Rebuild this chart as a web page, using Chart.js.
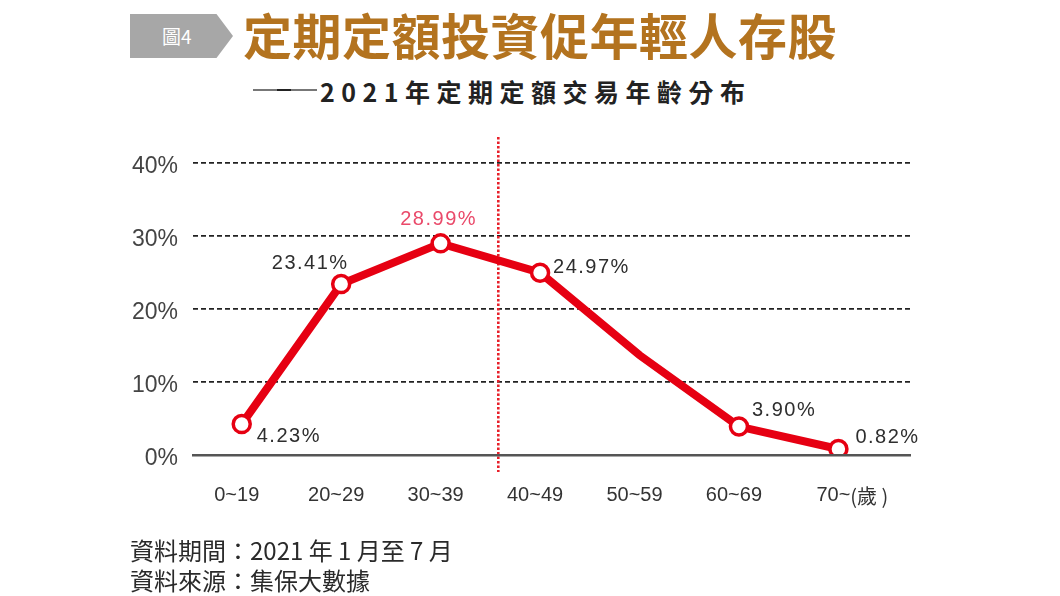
<!DOCTYPE html>
<html lang="zh-Hant">
<head>
<meta charset="UTF-8">
<title>定期定額投資促年輕人存股</title>
<script src="https://cdn.jsdelivr.net/npm/chart.js"></script>
<style>
  html, body { margin: 0; padding: 0; background: #fff; }
  body {
    width: 1060px; height: 596px;
    position: relative; overflow: hidden;
    font-family: "Noto Sans CJK TC", sans-serif;
  }
  #chart { position: absolute; left: 0; top: 0; }
  #badge {
    position: absolute; left: 130px; top: 14px;
    width: 103px; height: 44px;
    background: #a7a7a7;
    clip-path: polygon(0 0, 84% 0, 100% 50%, 84% 100%, 0 100%);
    color: #fff; font-size: 19px; line-height: 44px;
  }
  #badge span { position: absolute; left: 32px; }
  #title {
    position: absolute; left: 243px; top: 4px;
    font-size: 49px; font-weight: 700; line-height: 60px;
    color: #b3731f; letter-spacing: 0.5px; white-space: nowrap;
  }
  #dash { position: absolute; left: 253px; top: 89px; width: 64px; height: 2px; background: #777; }
  #dash::after { content: ""; position: absolute; left: 24px; top: 0; width: 14px; height: 2px; background: #222; }
  #subtitle {
    position: absolute; left: 320px; top: 75px;
    font-size: 25px; font-weight: 700; line-height: 32px;
    color: #222; letter-spacing: 6.5px; white-space: nowrap;
  }
  #source {
    position: absolute; left: 130px; top: 535px;
    font-size: 24px; line-height: 30px; color: #2a2a2a; white-space: nowrap;
  }
</style>
</head>
<body>
  <div id="badge"><span>圖4</span></div>
  <div id="title">定期定額投資促年輕人存股</div>
  <div id="dash"></div>
  <div id="subtitle">2021年定期定額交易年齡分布</div>
  <canvas id="chart" width="1060" height="596"></canvas>
  <div id="source">資料期間：2021 年 1 月至 7 月<br>資料來源：集保大數據</div>

<script>
  const ageGroups = ['0~19', '20~29', '30~39', '40~49', '50~59', '60~69', '70~'];
  const sharePct = [4.23, 23.41, 28.99, 24.97, 13.68, 3.90, 0.82];
  const yTicks = [0, 10, 20, 30, 40];
  const ageUnit = '(歲 )';
  const unlabeledGroups = ['50~59'];
  const highlightGroup = '30~39';
  const dividerAt = 2.58;   // red dotted line between 30~39 and 40~49

  // label placement next to each marker (dx, dy, align)
  const labelPlace = [
    [15, 12, 'left'], [-31, -21, 'center'], [-2, -24, 'center'],
    [13, -5, 'left'], [0, 0, 'left'], [13, -16, 'left'], [17, -12, 'left']
  ];

  const RED = '#e60012';

  const extras = {
    id: 'extras',
    beforeDatasetsDraw(chart) {
      const { ctx, scales: { x, y } } = chart;
      const dx = x.getPixelForValue(dividerAt);
      ctx.save();
      ctx.strokeStyle = '#e8202a';
      ctx.lineWidth = 2.6;
      ctx.setLineDash([2.5, 2]);
      ctx.beginPath();
      ctx.moveTo(dx, y.top - 26);
      ctx.lineTo(dx, y.bottom + 17);
      ctx.stroke();
      ctx.restore();
    },
    afterDatasetsDraw(chart) {
      const { ctx, scales: { x, y } } = chart;
      const meta = chart.getDatasetMeta(0);
      ctx.save();
      ctx.font = '20px "Liberation Sans", Arial, sans-serif';
      ctx.letterSpacing = '1.5px';
      ctx.textBaseline = 'middle';
      meta.data.forEach((pt, i) => {
        if (unlabeledGroups.includes(ageGroups[i])) return;
        const [ox, oy, al] = labelPlace[i];
        ctx.textAlign = al;
        ctx.fillStyle = ageGroups[i] === highlightGroup ? '#ea4a6a' : '#2e2e2e';
        ctx.fillText(sharePct[i].toFixed(2) + '%', pt.x + ox, pt.y + oy);
      });
      // unit after last category tick
      ctx.letterSpacing = '0px';
      ctx.font = '20px "Liberation Sans", Arial, sans-serif';
      const last = ageGroups.length - 1;
      const w = ctx.measureText(ageGroups[last]).width;
      ctx.textAlign = 'left';
      ctx.fillStyle = '#333';
      ctx.font = '20px "Noto Sans CJK TC", sans-serif';
      ctx.fillText(ageUnit, x.getPixelForValue(last) - 5 + w / 2, y.bottom + 41);
      ctx.restore();
    }
  };

  new Chart(document.getElementById('chart'), {
    type: 'line',
    data: {
      datasets: [{
        data: sharePct.map((v, i) => ({ x: i, y: v })),
        borderColor: RED,
        borderWidth: 8,
        tension: 0,
        pointRadius: c => unlabeledGroups.includes(ageGroups[c.dataIndex]) ? 0 : 8.5,
        pointHoverRadius: c => unlabeledGroups.includes(ageGroups[c.dataIndex]) ? 0 : 8.5,
        pointBackgroundColor: '#fff',
        pointBorderColor: RED,
        pointBorderWidth: 3.5
      }]
    },
    options: {
      responsive: false,
      animation: false,
      layout: { padding: { left: 0, right: 150, top: 163, bottom: 0 } },
      plugins: { legend: { display: false }, tooltip: { enabled: false } },
      scales: {
        x: {
          type: 'linear',
          min: -0.49, max: 6.72,
          grid: { display: false, drawTicks: false },
          border: { display: true, color: '#555', width: 2.5, z: 1 },
          afterFit: s => { s.height = 141; },
          ticks: {
            stepSize: 1,
            includeBounds: false,
            autoSkip: false,
            maxRotation: 0,
            padding: 28,
            labelOffset: -5,
            color: '#333',
            font: { family: '"Liberation Sans", Arial, sans-serif', size: 20 },
            callback: v => ageGroups[v] ?? ''
          }
        },
        y: {
          min: yTicks[0], max: yTicks[yTicks.length - 1],
          afterFit: s => { s.width = 193; },
          afterBuildTicks: s => { s.ticks = yTicks.map(v => ({ value: v })); },
          grid: {
            drawTicks: false,
            color: c => c.tick && c.tick.value === 0 ? 'rgba(0,0,0,0)' : '#222',
            lineWidth: 1.8
          },
          border: { display: false, dash: [5, 3] },
          ticks: {
            padding: 15,
            labelOffset: 4,
            color: '#444',
            font: { family: '"Liberation Sans", Arial, sans-serif', size: 23 },
            callback: v => v + '%'
          }
        }
      }
    },
    plugins: [extras]
  });
</script>
</body>
</html>
